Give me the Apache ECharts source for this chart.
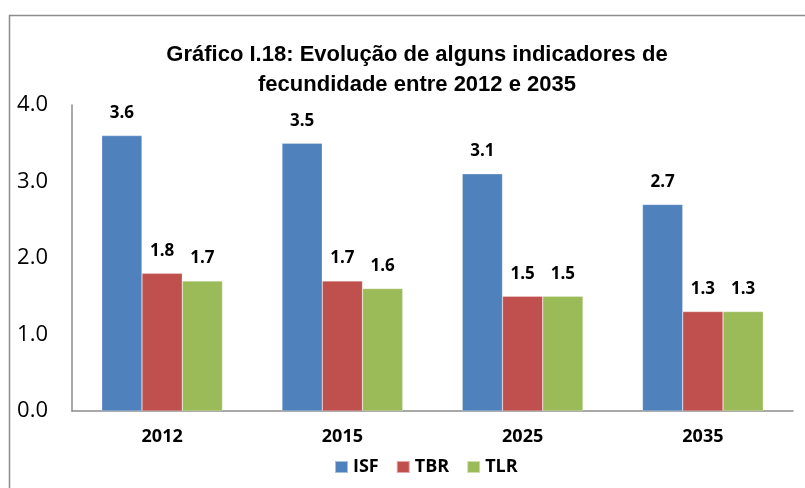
<!DOCTYPE html>
<html>
<head>
	<meta charset="UTF-8">
	<title>Gráfico I.18</title>
	<script src="https://cdn.jsdelivr.net/npm/echarts@6/dist/echarts.min.js"></script>
	<style>
		html, body { margin: 0; padding: 0; background: #fff; }
		#chart { width: 805px; height: 488px; }
	</style>
</head>
<body>
	<div id="chart"></div>

	<script type="text/javascript">
		// dados
		var years = ['2012', '2015', '2025', '2035'];
		var isf = [3.6, 3.5, 3.1, 2.7];
		var tbr = [1.8, 1.7, 1.5, 1.3];
		var tlr = [1.7, 1.6, 1.5, 1.3];
		var seriesNames = ['ISF', 'TBR', 'TLR'];
		var colors = ['#4F81BD', '#C0504D', '#9BBB59'];

		var chart = echarts.init(document.getElementById('chart'));

		var labelStyle = {
			show: true,
			position: 'top',
			distance: 14,
			fontFamily: 'Open Sans',
			fontWeight: 'bold',
			fontSize: 17,
			color: '#000',
			formatter: function (p) { return p.value.toFixed(1); }
		};

		function makeSeries(name, data, color) {
			return {
				name: name,
				type: 'bar',
				data: data,
				barGap: '0%',
				barCategoryGap: '33%',
				itemStyle: { color: color, borderColor: 'rgba(255,255,255,0.5)', borderWidth: 0.5 },
				label: labelStyle
			};
		}

		var option = {
			animation: false,
			title: {
				text: 'Gráfico I.18: Evolução de alguns indicadores de\nfecundidade entre 2012 e 2035',
				left: 412,
				textAlign: 'center',
				top: 35,
				textStyle: {
					fontFamily: 'Liberation Sans',
					fontWeight: 'bold',
					fontSize: 22,
					lineHeight: 30,
					color: '#000'
				}
			},
			graphic: [{
				type: 'polyline',
				shape: { points: [[9.5, 488], [9.5, 15.5], [805, 15.5]] },
				style: { stroke: '#8c8c8c', lineWidth: 1.5, fill: null }
			}],
			legend: {
				data: seriesNames,
				bottom: 7,
				left: 329,
				itemWidth: 13,
				itemHeight: 12,
				itemGap: 17,
				icon: 'rect',
				textStyle: {
					fontFamily: 'Open Sans',
					fontWeight: 'bold',
					fontSize: 18,
					color: '#000'
				}
			},
			grid: {
				left: 72,
				right: 12,
				top: 105,
				bottom: 77
			},
			xAxis: {
				type: 'category',
				data: years,
				axisLine: { lineStyle: { color: '#8c8c8c', width: 1.5 } },
				axisTick: { show: false },
				axisLabel: {
					margin: 17,
					fontFamily: 'Open Sans',
					fontWeight: 'bold',
					fontSize: 18,
					color: '#000'
				}
			},
			yAxis: {
				type: 'value',
				min: 0,
				max: 4,
				interval: 1,
				axisLine: { show: true, lineStyle: { color: '#8c8c8c', width: 1.5 } },
				axisTick: { show: false },
				splitLine: { show: false },
				axisLabel: {
					margin: 24,
					fontFamily: 'Open Sans',
					fontSize: 22,
					color: '#000',
					formatter: function (v) { return v.toFixed(1); }
				}
			},
			series: [
				makeSeries(seriesNames[0], isf, colors[0]),
				makeSeries(seriesNames[1], tbr, colors[1]),
				makeSeries(seriesNames[2], tlr, colors[2])
			]
		};

		chart.setOption(option);
	</script>
</body>
</html>
